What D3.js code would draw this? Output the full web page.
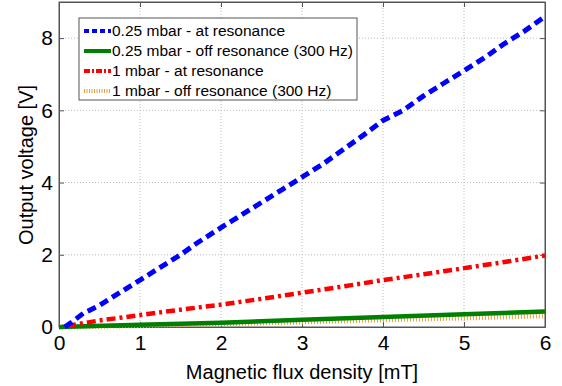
<!DOCTYPE html>
<html><head><meta charset="utf-8">
<script src="https://cdn.jsdelivr.net/npm/d3@7"></script>
<style>body{margin:0;background:#fff}svg{display:block;font-family:"Liberation Sans",Arial,sans-serif}</style>
</head><body><svg id="c" width="562" height="386"></svg>
<script>
const xTicks=[0,1,2,3,4,5,6];
const yTicks=[0,2,4,6,8];
const bBlue=[0.07,0.15,0.3,0.5,0.75,1,1.25,1.5,1.7,2,2.25,2.5,2.75,3,3.25,3.5,3.75,4,4.25,4.5,4.75,5,5.25,5.5,5.75,6];
const vBlue=[0,0.12,0.38,0.6,0.95,1.3,1.65,2.0,2.32,2.75,3.1,3.45,3.8,4.15,4.5,4.9,5.3,5.72,6.0,6.4,6.75,7.1,7.45,7.85,8.2,8.6];
const bRed=[0.1,0.5,1,1.5,2,2.5,3,3.5,4,4.5,5,5.5,6];
const vRed=[0.03,0.18,0.33,0.48,0.62,0.78,0.95,1.12,1.3,1.46,1.63,1.8,1.98];
const bGreen=[0,1,2,3,4,5,6];
const vGreen=[0,0.06,0.12,0.2,0.28,0.35,0.43];
const bOrange=[0,1,2,3,4,5,6];
const vOrange=[0,0.04,0.09,0.14,0.2,0.25,0.31];
const labels=["0.25 mbar - at resonance","0.25 mbar - off resonance (300 Hz)","1 mbar - at resonance","1 mbar - off resonance (300 Hz)"];

const svg=d3.select("#c");
const L=59,R=545,T=2,B=327;
const x=d3.scaleLinear().domain([0,6]).range([L,R]);
const y=d3.scaleLinear().domain([0,9]).range([B,T]);
const g=svg.append("g");
g.selectAll(".gx").data(xTicks.slice(1,-1)).join("line").attr("x1",d=>x(d)).attr("x2",d=>x(d)).attr("y1",T).attr("y2",B).attr("stroke","#bbb").attr("stroke-dasharray","1,2");
g.selectAll(".gy").data(yTicks.slice(1)).join("line").attr("y1",d=>y(d)).attr("y2",d=>y(d)).attr("x1",L).attr("x2",R).attr("stroke","#bbb").attr("stroke-dasharray","1,2");
const fmt=d3.format("d");
const xa=svg.append("g").attr("transform",`translate(0,${B})`).call(d3.axisBottom(x).tickValues(xTicks).tickFormat(fmt).tickSizeInner(-5).tickSizeOuter(0).tickPadding(8));
const xa2=svg.append("g").attr("transform",`translate(0,${T})`).call(d3.axisTop(x).tickValues(xTicks).tickSizeInner(-5).tickSizeOuter(0).tickFormat(""));
const ya=svg.append("g").attr("transform",`translate(${L},0)`).call(d3.axisLeft(y).tickValues(yTicks).tickFormat(fmt).tickSizeInner(-5).tickSizeOuter(0).tickPadding(6));
const ya2=svg.append("g").attr("transform",`translate(${R},0)`).call(d3.axisRight(y).tickValues(yTicks).tickSizeInner(-5).tickSizeOuter(0).tickFormat(""));
[xa,xa2,ya,ya2].forEach(a=>{a.selectAll("path").attr("stroke","#555");a.selectAll("line").attr("stroke","#555");a.selectAll("text").attr("font-size",21).attr("fill","#000").attr("font-family","Liberation Sans, Arial, sans-serif");});
xa.selectAll("text").attr("dy","0.71em");
svg.append("rect").attr("x",L).attr("y",T).attr("width",R-L).attr("height",B-T).attr("fill","none").attr("stroke","#555");

const line=d3.line().x(d=>x(d[0])).y(d=>y(d[1]));
const series=[
 {b:bOrange,v:vOrange,c:"#e8a040",w:5,da:"1,2"},
 {b:bGreen,v:vGreen,c:"#008000",w:4.5,da:null},
 {b:bRed,v:vRed,c:"#ff0000",w:4.5,da:"9,4,3,4"},
 {b:bBlue,v:vBlue,c:"#0000ff",w:5,da:"9,5"}
];
series.forEach(s=>{
 svg.append("path").datum(d3.zip(s.b,s.v)).attr("d",line).attr("fill","none").attr("stroke",s.c).attr("stroke-width",s.w).attr("stroke-dasharray",s.da);
});
const lg=svg.append("g");
lg.append("rect").attr("x",79).attr("y",18).attr("width",278).attr("height",82).attr("fill","#fff").attr("stroke","#555");
const ls=[{c:"#0000ff",w:4,da:"5,3"},{c:"#008000",w:4,da:null},{c:"#ff0000",w:4,da:"6,2,2,2"},{c:"#e8a040",w:4,da:"1,1.5"}];
labels.forEach((t,i)=>{
 const yy=31+i*20;
 lg.append("line").attr("x1",84).attr("x2",111).attr("y1",yy).attr("y2",yy).attr("stroke",ls[i].c).attr("stroke-width",ls[i].w).attr("stroke-dasharray",ls[i].da);
 lg.append("text").attr("x",112).attr("y",yy).attr("dy","0.35em").attr("font-size",15.5).text(t);
});
svg.append("text").attr("x",(L+R)/2).attr("y",379).attr("text-anchor","middle").attr("font-size",20).text("Magnetic flux density [mT]");
svg.append("text").attr("transform","translate(33,165) rotate(-90)").attr("text-anchor","middle").attr("font-size",20).text("Output voltage [V]");
</script></body></html>
